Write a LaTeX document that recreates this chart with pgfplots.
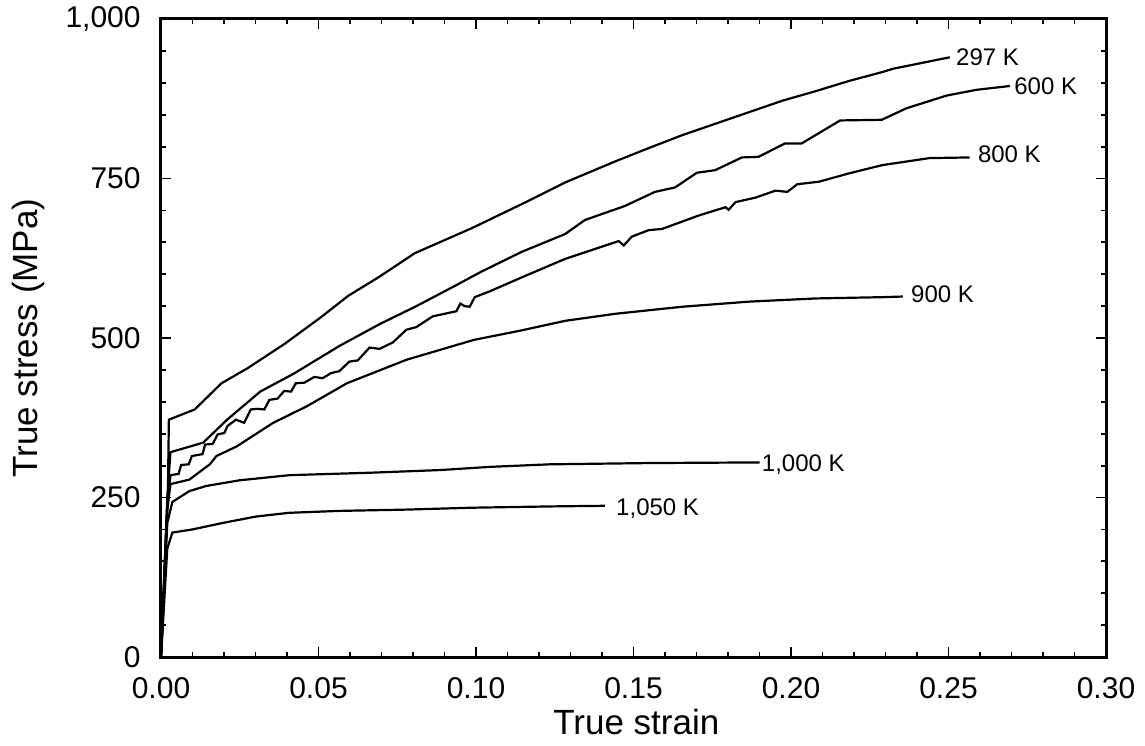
\documentclass[border=0pt]{standalone}
\usepackage{fontspec}
\setmainfont{Liberation Sans}
\usepackage{pgfplots}
\pgfplotsset{compat=1.18}
\begin{document}
\begin{tikzpicture}
\begin{axis}[
  scale only axis,
  width=472.5pt, height=319pt,
  xmin=0, xmax=0.3, ymin=0, ymax=1000,
  xtick={0,0.05,0.1,0.15,0.2,0.25,0.3},
  ytick={0,250,500,750,1000},
  minor x tick num=4, minor y tick num=4,
  scaled x ticks=false, scaled y ticks=false,
  tick align=inside,
  major tick length=5pt, minor tick length=2.5pt,
  every tick/.style={black, line width=0.9pt},
  axis line style={line width=1.5pt},
  /pgf/number format/assume math mode=true,
  xticklabel style={/pgf/number format/.cd, fixed, fixed zerofill, precision=2, /tikz/.cd, font=\fontsize{15}{18}\selectfont, inner sep=1pt, yshift=-9pt},
  yticklabel style={/pgf/number format/.cd, 1000 sep={,}, /tikz/.cd, font=\fontsize{15}{18}\selectfont, inner sep=1pt, xshift=-9pt},
  xlabel={True strain}, ylabel={True stress (MPa)},
  xlabel style={font=\fontsize{17.5}{20}\selectfont, at={(axis description cs:0.503,-0.0713)}, anchor=north},
  ylabel style={font=\fontsize{17.5}{20}\selectfont, at={(axis description cs:-0.1407,0.5)}, anchor=center},
  cycle list={{black, solid}},
  every axis plot/.append style={line width=1.1pt, black, solid, no marks},
]
% 297 K
\addplot coordinates {
(0,0) (0.0022,260) (0.0025,372) (0.0107,388) (0.0192,429) (0.0276,453) (0.0393,491)
(0.0509,533) (0.0594,566) (0.069,595) (0.0806,633) (0.0986,672) (0.1146,710) (0.1284,744)
(0.1443,777) (0.155,798) (0.1655,818) (0.1761,836) (0.1867,854) (0.1973,872) (0.2079,887)
(0.2185,903) (0.2291,917) (0.2324,922) (0.2504,940)
};
% 600 K
\addplot coordinates {
(0,0) (0.002,250) (0.003,321) (0.0134,336) (0.021,372) (0.0315,416) (0.0421,444)
(0.0568,488) (0.0695,522) (0.0811,550) (0.0938,583) (0.1017,604) (0.1145,635) (0.1283,663)
(0.1346,685) (0.1473,707) (0.1568,729) (0.1632,736) (0.1701,759) (0.1759,763) (0.1844,783)
(0.1897,784) (0.1981,805) (0.2034,805) (0.2156,841) (0.2288,842) (0.2366,860) (0.2494,880)
(0.2589,889) (0.2695,895)
};
% 800 K
\addplot coordinates {
(0,0) (0.002,240) (0.003,285) (0.0056,287) (0.0064,301) (0.0088,302) (0.0098,315)
(0.0132,318) (0.014,333) (0.0164,334) (0.018,349) (0.0201,351) (0.0211,362) (0.0238,372)
(0.0264,367) (0.0285,388) (0.0306,389) (0.0328,388) (0.0344,403) (0.037,405) (0.0391,417)
(0.0413,416) (0.0428,429) (0.0455,430) (0.0487,439) (0.0513,437) (0.054,445) (0.0566,448)
(0.0598,463) (0.0625,465) (0.0662,485) (0.0694,483) (0.0736,493) (0.0779,513) (0.081,517)
(0.0863,534) (0.0938,542) (0.095,554) (0.0964,550) (0.098,549) (0.0996,564) (0.1043,573)
(0.1145,595) (0.1283,624) (0.1453,652) (0.1469,645) (0.1495,659) (0.1548,669) (0.1591,671)
(0.1707,692) (0.1792,705) (0.1802,701) (0.1824,713) (0.1887,720) (0.1951,731) (0.1988,729)
(0.2020,741) (0.2089,745) (0.2184,758) (0.2290,771) (0.2440,782) (0.2567,783)
};
% 900 K
\addplot coordinates {
(0,0) (0.002,230) (0.003,271) (0.009,278) (0.0155,302) (0.0176,315) (0.024,330)
(0.0356,367) (0.0463,393) (0.059,429) (0.078,466) (0.0993,497) (0.1145,512) (0.1284,527)
(0.1443,538) (0.1655,549) (0.1867,557) (0.2078,562) (0.2290,564) (0.2355,565)
};
% 1000 K
\addplot coordinates {
(0,0) (0.002,210) (0.0036,243) (0.009,260) (0.0143,268) (0.025,277) (0.0408,285)
(0.0673,289) (0.0885,293) (0.1044,298) (0.1234,302) (0.155,304) (0.19,305)
};
% 1050 K
\addplot coordinates {
(0,0) (0.002,170) (0.0036,195) (0.01,200) (0.0195,210) (0.03,220) (0.0406,226)
(0.0565,229) (0.0776,231) (0.0988,234) (0.1234,236) (0.1409,237)
};
\begin{scope}[every node/.style={anchor=west, inner sep=3pt, font=\fontsize{12}{14}\selectfont}]
\node at (axis cs:0.2504,940) {297 K};
\node[xshift=-1pt] at (axis cs:0.2695,895) {600 K};
\node[xshift=1pt, yshift=1.5pt] at (axis cs:0.2567,783) {800 K};
\node[xshift=1pt, yshift=1pt] at (axis cs:0.2355,565) {900 K};
\node[xshift=-2pt, yshift=-1pt] at (axis cs:0.19,305) {1,000 K};
\node[xshift=2.5pt, yshift=-1.5pt] at (axis cs:0.1409,237) {1,050 K};
\end{scope}
\end{axis}
\pgfresetboundingbox
\path (-80.5pt,-44pt) rectangle (492pt,328.5pt);
\end{tikzpicture}
\end{document}
